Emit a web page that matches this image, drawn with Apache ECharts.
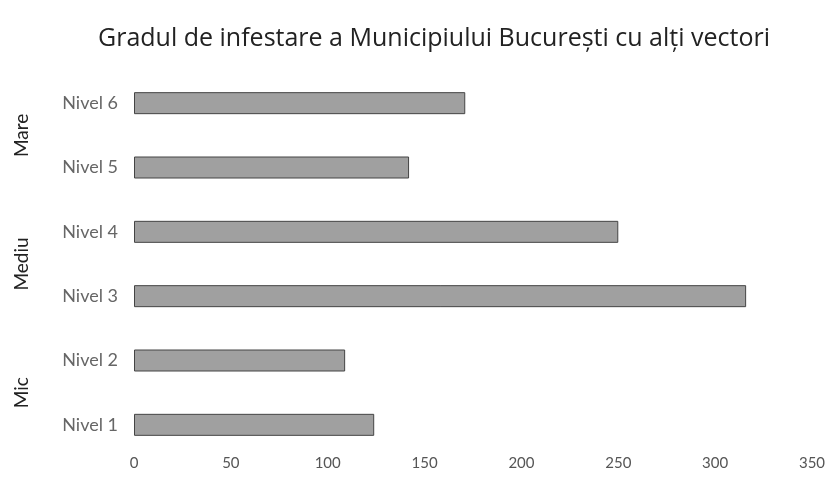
<!DOCTYPE html>
<html>
<head>
<meta charset="utf-8">
<script src="https://cdn.jsdelivr.net/npm/echarts@6/dist/echarts.min.js"></script>
<style>
  html, body { margin: 0; padding: 0; background: #fff; }
  #chart { width: 838px; height: 498px; }
</style>
</head>
<body>
<div id="chart"></div>
<script>
// data
const levels = ['Nivel 1', 'Nivel 2', 'Nivel 3', 'Nivel 4', 'Nivel 5', 'Nivel 6'];
const values = [124, 109, 316, 250, 142, 171];
const groups = ['Mic', 'Mediu', 'Mare'];
const xTicks = [0, 50, 100, 150, 200, 250, 300, 350];

const chart = echarts.init(document.getElementById('chart'));

chart.setOption({
    animation: false,
    backgroundColor: '#fff',
    title: {
        text: 'Gradul de infestare a Municipiului București cu alți vectori',
        left: 93,
        top: 21,
        textStyle: {
            fontFamily: 'Open Sans',
            fontSize: 25,
            fontWeight: 'normal',
            color: '#222'
        }
    },
    grid: {
        left: 134,
        right: 26,
        top: 71,
        bottom: 41
    },
    xAxis: {
        type: 'value',
        min: xTicks[0],
        max: xTicks[xTicks.length - 1],
        interval: 50,
        axisLine: { show: false },
        axisTick: { show: false },
        splitLine: { show: false },
        axisLabel: {
            margin: -1,
            color: '#555',
            fontFamily: 'Lato',
            fontSize: 15
        }
    },
    yAxis: [{
        type: 'category',
        data: levels,
        axisLine: { show: false },
        axisTick: { show: false },
        axisLabel: {
            margin: 16,
            color: '#666',
            fontFamily: 'Lato',
            fontSize: 18
        }
    }, {
        type: 'category',
        data: groups,
        position: 'left',
        offset: 103,
        axisLine: { show: false },
        axisTick: { show: false },
        axisLabel: {
            rotate: 90,
            margin: 0,
            color: '#222',
            fontFamily: 'Lato',
            fontSize: 19
        }
    }],
    series: [{
        type: 'bar',
        yAxisIndex: 0,
        data: values,
        barWidth: 22,
        itemStyle: {
            color: '#a0a0a0',
            borderColor: '#444',
            borderWidth: 1
        }
    }]
});
</script>
</body>
</html>
